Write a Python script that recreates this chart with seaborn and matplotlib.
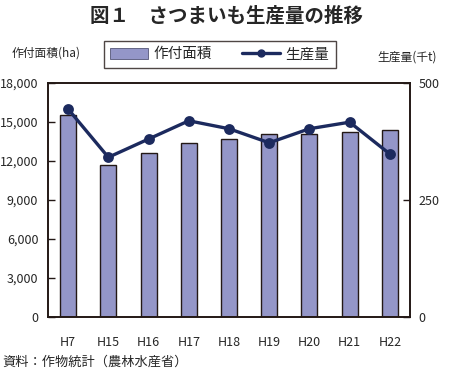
import pandas as pd
import matplotlib.pyplot as plt
import seaborn as sns
from matplotlib.ticker import FixedLocator

# data
years = ['H7', 'H15', 'H16', 'H17', 'H18', 'H19', 'H20', 'H21', 'H22']
area_ha = [15500, 11700, 12600, 13400, 13700, 14100, 14100, 14200, 14400]
prod_kt = [444, 341, 380, 419, 402, 372, 402, 416, 348]

BAR_COLOR = '#9496c8'
LINE_COLOR = '#1c2a5e'

sns.set_style('white')
plt.rcParams['font.family'] = ['Noto Sans CJK JP', 'DejaVu Sans']

df = pd.DataFrame({'year': years, 'area': area_ha, 'prod': prod_kt})

fig = plt.figure(figsize=(4.53, 3.75), dpi=100)
ax = fig.add_axes([0.106, 0.155, 0.799, 0.624])

sns.barplot(data=df, x='year', y='area', color=BAR_COLOR, width=0.4,
            edgecolor='#231815', linewidth=1.0, saturation=1, ax=ax)
ax.set_ylim(0, 18000)
ax.set_yticks(range(0, 18001, 3000))
ax.set_yticklabels([f'{v:,}' for v in range(0, 18001, 3000)])
ax.set_xlim(-0.5, len(years) - 0.5)
ax.set_xlabel('')
ax.set_ylabel('')

ax2 = ax.twinx()
sns.pointplot(data=df, x='year', y='prod', color=LINE_COLOR, markers='o',
              markersize=6, linewidth=2.4, ax=ax2)
ax2.set_ylim(0, 500)
ax2.set_yticks([0, 250, 500])
ax2.set_xlim(-0.5, len(years) - 0.5)
ax2.set_xlabel('')
ax2.set_ylabel('')

for a in (ax, ax2):
    for s in a.spines.values():
        s.set_color('#231815')
        s.set_linewidth(1.2)

ax.tick_params(axis='y', direction='in', length=5, width=1, color='#231815',
               labelsize=9, pad=7)
ax2.tick_params(axis='y', direction='in', length=5, width=1, color='#231815',
                labelsize=9, pad=6)
ax.tick_params(axis='x', length=0, labelsize=9, pad=14)
ax.xaxis.set_minor_locator(FixedLocator([i + 0.5 for i in range(len(years) - 1)]))
ax.tick_params(axis='x', which='minor', direction='in', length=5, width=1,
               color='#231815')
ax2.tick_params(axis='x', length=0)

# legend box above the plot
bar_h = plt.Rectangle((0, 0), 1, 1, facecolor=BAR_COLOR, edgecolor='#555577', linewidth=0.6)
line_h = plt.Line2D([], [], color=LINE_COLOR, linewidth=2.4, marker='o', markersize=5)
fig.legend([bar_h, line_h], ['作付面積', '生産量'], loc='center',
           bbox_to_anchor=(0.485, 0.855), ncol=2, frameon=True, fancybox=False,
           edgecolor='#231815', fontsize=10.5, handlelength=2.6, handleheight=0.8,
           columnspacing=2.0, borderpad=0.45, handletextpad=0.4)

fig.text(0.5, 0.957, '図１　さつまいも生産量の推移', ha='center', va='center',
         fontsize=14, fontweight='bold')
fig.text(0.025, 0.858, '作付面積(ha)', ha='left', va='center', fontsize=8.5)
fig.text(0.965, 0.848, '生産量(千t)', ha='right', va='center', fontsize=8.5)
fig.text(0.006, 0.035, '資料：作物統計（農林水産省）', ha='left', va='center', fontsize=9.5)

fig.savefig('out.png', dpi=100)
